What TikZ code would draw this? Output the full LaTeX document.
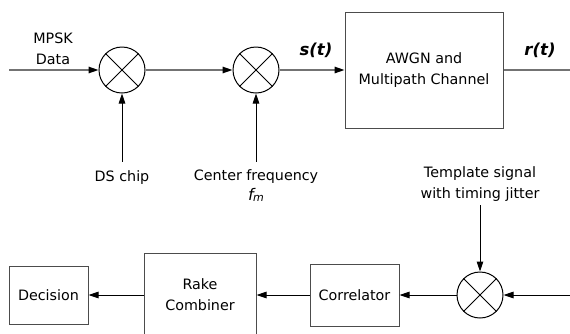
\documentclass[tikz,border=0pt]{standalone}
\usepackage{fontspec}
\setmainfont{DejaVu Sans}
\usetikzlibrary{arrows.meta}
\begin{document}
\begin{tikzpicture}[x=1pt,y=-1pt,
  font=\fontsize{14.3}{21}\selectfont,
  every node/.style={inner sep=0pt},
  mixer/.style={circle,draw=black,line width=1pt,minimum size=46pt},
  block/.style={draw=black!70,line width=1pt,align=center},
  lbl/.style={anchor=base},
  sig/.style={anchor=base,font=\fontsize{16.5}{20}\selectfont\bfseries\itshape},
  arr/.style={-{Triangle[length=10pt,width=6.5pt,color=black]}},
  gline/.style={draw=black!55,line width=1.3pt},
  bline/.style={draw=black,line width=1pt},
]
\useasboundingbox (0,0) rectangle (570,333);
% top row
\node[mixer] (m1) at (122,70) {};
\node[mixer] (m2) at (256,70) {};
\node[block,minimum width=158pt,minimum height=116pt] (ch) at (424,70) {AWGN and\\Multipath Channel};
\coordinate (in1) at (9,70);
\coordinate (out1) at (570,70);
\draw[gline,arr] (in1) -- (m1);
\draw[gline,arr] (m1) -- (m2);
\draw[gline,arr] (m2) -- (ch);
\draw[gline] (ch) -- (out1);
\node[lbl] (mpsk) at (53,43) {MPSK};
\node[lbl] (data) at (53,64) {Data};
\node[sig] (st) at (316,55) {s(t)};
\node[sig] (rt) at (540,55) {r(t)};
% inputs from below
\node[lbl] (ds) at (122,181) {DS chip};
\node[lbl] (cf) at (256,180) {Center frequency};
\node[lbl] (fm) at (256,200) {{\fontsize{16}{16}\selectfont\itshape f\kern-0.5pt}{\fontsize{11}{11}\selectfont\itshape\raisebox{-1.5pt}{m}}};
\draw[bline,arr] ([yshift=8pt]ds.north) -- (m1);
\draw[bline,arr] ([yshift=7pt]cf.north) -- (m2);
% bottom row
\node[lbl] (tpl) at (480,177) {Template signal};
\node[lbl] (jit) at (480,198) {with timing jitter};
\node[mixer] (m3) at (480,295) {};
\node[block,minimum width=89pt,minimum height=62pt] (cor) at (354.5,295) {Correlator};
\node[block,minimum width=112pt,minimum height=84pt] (rake) at (200,295) {Rake\\Combiner};
\node[block,minimum width=79pt,minimum height=58pt] (dec) at (48.5,295) {Decision};
\coordinate (in2) at (570,295);
\draw[bline,arr] ([yshift=-4pt]jit.south) -- (m3);
\draw[bline,arr] (in2) -- (m3);
\draw[bline,arr] (m3) -- (cor);
\draw[bline,arr] (cor) -- (rake);
\draw[bline,arr] (rake) -- (dec);
% crosses
\foreach \m in {m1,m2,m3}
  \draw[line width=1pt] (\m.45) -- (\m.225) (\m.135) -- (\m.-45);
\end{tikzpicture}
\end{document}
